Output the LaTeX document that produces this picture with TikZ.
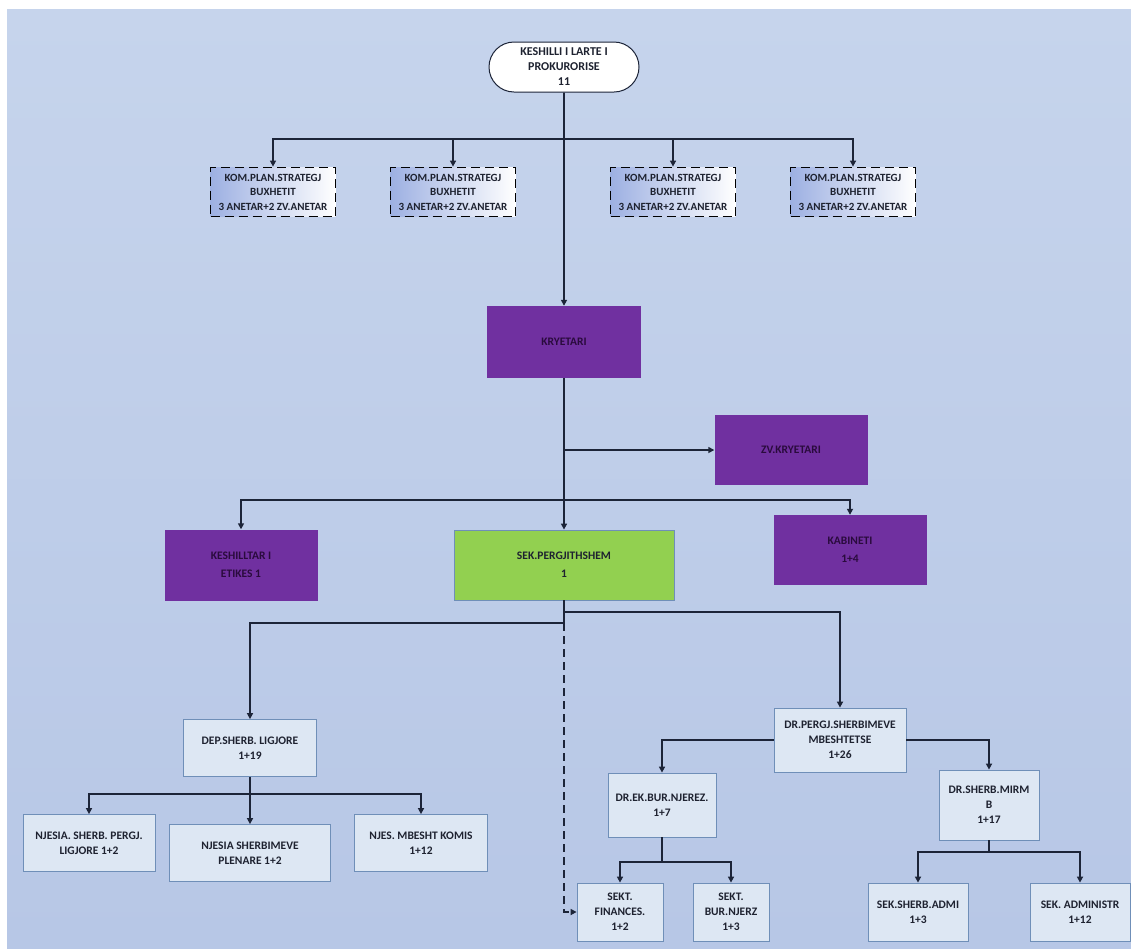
\documentclass[tikz,border=0pt]{standalone}
\usepackage{xcolor}
\usepackage{tikz}
\usepackage{fontspec}
\setmainfont{Carlito}
\usetikzlibrary{shapes.misc,arrows.meta}

\definecolor{bgtop}{HTML}{C6D4EC}
\definecolor{bgbot}{HTML}{B7C7E6}
\definecolor{lila}{HTML}{7030A0}
\definecolor{lime}{HTML}{92D050}
\definecolor{boxfill}{HTML}{DDE7F3}
\definecolor{boxline}{HTML}{6F8FB8}
\definecolor{komblue}{HTML}{9DB0E2}
\definecolor{lin}{HTML}{1C2438}
\definecolor{txt}{HTML}{1E2230}
\definecolor{lilatxt}{HTML}{2A0B3D}

\begin{document}
\begin{tikzpicture}[x=1pt, y=1pt,
	box/.style = {draw=boxline, fill=boxfill, line width=0.8pt, align=center, inner sep=1pt, text=txt, font=\bfseries\fontsize{11.5}{15}\selectfont},
	kom/.style = {draw=black, line width=1.8pt, dash pattern=on 9pt off 5pt, left color=komblue, right color=white, align=center, inner sep=0pt, minimum width=125pt, minimum height=49pt, text=txt, font=\bfseries\fontsize{11}{14.5}\selectfont},
	purple/.style = {fill=lila, align=center, minimum width=153pt, minimum height=71pt, text=lilatxt, font=\bfseries\fontsize{11.5}{18}\selectfont},
	sekbox/.style = {fill=lime, draw=boxline, line width=0.8pt, align=center, minimum width=220pt, minimum height=70pt, text=txt, font=\bfseries\fontsize{11.5}{18}\selectfont},
	link/.style = {draw=lin, line width=1.6pt, -{Triangle[width=6pt,length=6pt]}}]
	\useasboundingbox (0,0) rectangle (1131,-948);
	\fill[white] (0,0) rectangle (1131,-948);
	\shade[top color=bgtop, bottom color=bgbot] (7,-9) rectangle (1131,-948);

	% top of the tree
	\node[rounded rectangle, draw=lin, line width=1pt, fill=white, align=center, minimum width=152pt, minimum height=50pt, inner sep=1pt, text=txt, font=\bfseries\fontsize{12}{15}\selectfont] (klp) at (564,-67) {KESHILLI I LARTE I\\PROKURORISE\\11};
	\node[kom] (k1) at (273,-192) {KOM.PLAN.STRATEGJ\\BUXHETIT\\3 ANETAR+2 ZV.ANETAR};
	\node[kom] (k2) at (453,-192) {KOM.PLAN.STRATEGJ\\BUXHETIT\\3 ANETAR+2 ZV.ANETAR};
	\node[kom] (k3) at (673,-192) {KOM.PLAN.STRATEGJ\\BUXHETIT\\3 ANETAR+2 ZV.ANETAR};
	\node[kom] (k4) at (853,-192) {KOM.PLAN.STRATEGJ\\BUXHETIT\\3 ANETAR+2 ZV.ANETAR};

	\node[purple, minimum width=154pt, minimum height=72pt] (kry) at (564,-342) {KRYETARI};
	\node[purple, minimum height=70pt] (zv) at (791,-450) {ZV.KRYETARI};
	\node[purple] (kesh) at (241,-565) {KESHILLTAR I\\ETIKES 1};
	\node[sekbox] (sek) at (564,-565) {SEK.PERGJITHSHEM\\1};
	\node[purple, minimum height=70pt] (kab) at (850,-550) {KABINETI\\1+4};

	% left branch
	\node[box, minimum width=133pt, minimum height=57pt] (dep) at (250,-748) {DEP.SHERB. LIGJORE\\1+19};
	\node[box, minimum width=132pt, minimum height=57pt] (nj1) at (89,-843) {NJESIA. SHERB. PERGJ.\\LIGJORE 1+2};
	\node[box, minimum width=161pt, minimum height=57pt] (nj2) at (250,-853) {NJESIA SHERBIMEVE\\PLENARE 1+2};
	\node[box, minimum width=133pt, minimum height=57pt] (nj3) at (421,-843) {NJES. MBESHT KOMIS\\1+12};

	% right branch
	\node[box, minimum width=132pt, minimum height=64pt] (drp) at (840,-740) {DR.PERGJ.SHERBIMEVE\\MBESHTETSE\\1+26};
	\node[box, minimum width=108pt, minimum height=64pt] (drek) at (662,-805) {DR.EK.BUR.NJEREZ.\\1+7};
	\node[box, minimum width=100pt, minimum height=70pt] (drsh) at (989,-805) {DR.SHERB.MIRM\\B\\1+17};
	\node[box, minimum width=86pt, minimum height=58pt] (sf) at (620,-912) {SEKT.\\FINANCES.\\1+2};
	\node[box, minimum width=76pt, minimum height=58pt] (sb) at (731,-912) {SEKT.\\BUR.NJERZ\\1+3};
	\node[box, minimum width=100pt, minimum height=58pt] (sa) at (918,-912) {SEK.SHERB.ADMI\\1+3};
	\node[box, minimum width=100pt, minimum height=58pt] (sad) at (1080,-912) {SEK. ADMINISTR\\1+12};

	% junctions
	\coordinate (j0) at (564,-139);
	\coordinate (j1) at (564,-450);
	\coordinate (j2) at (564,-500);
	\coordinate (j3) at (564,-612);
	\coordinate (j4) at (564,-623);
	\coordinate (j5) at (250,-794);
	\coordinate (j6) at (662,-862);
	\coordinate (j7) at (989,-852);

	\draw[link] (klp) -- (kry);
	\draw[link] (j0) -| (k1);
	\draw[link] (j0) -| (k2);
	\draw[link] (j0) -| (k3);
	\draw[link] (j0) -| (k4);
	\draw[link] (kry) -- (sek);
	\draw[link] (j1) -- (zv);
	\draw[link] (j2) -| (kesh);
	\draw[link] (j2) -| (kab);
	\draw[link] (sek.south) -- (j4) -| (dep);
	\draw[link] (j3) -| (drp);
	\draw[link, dash pattern=on 8pt off 5pt] (j4) |- (sf);
	\draw[link] (dep) -- (nj2);
	\draw[link] (j5) -| (nj1);
	\draw[link] (j5) -| (nj3);
	\draw[link] (drp.west) -| (drek);
	\draw[link] (drp.east) -| (drsh);
	\draw[link] (drek.south) -- (j6) -| (sf);
	\draw[link] (j6) -| (sb);
	\draw[link] (drsh.south) -- (j7) -| (sa);
	\draw[link] (j7) -| (sad);
\end{tikzpicture}
\end{document}
